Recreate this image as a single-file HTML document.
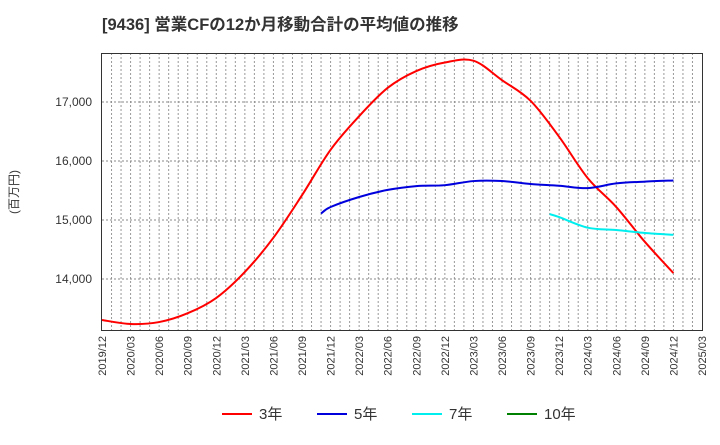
<!DOCTYPE html>
<html><head><meta charset="utf-8"><style>
body{margin:0;background:#fff;}
svg text{font-family:"Liberation Sans","Noto Sans CJK JP",sans-serif;}
</style></head><body>
<svg id="chart" width="720" height="440" xmlns="http://www.w3.org/2000/svg">
<text x="102" y="30" font-size="16.5" font-weight="bold" fill="#333">[9436]  営業CFの12か月移動合計の平均値の推移</text>
<text transform="translate(18,192) rotate(-90)" font-size="12" fill="#333" text-anchor="middle">(百万円)</text>
<g id="grid"></g>
<g id="series"></g>
<rect x="101.5" y="53.5" width="601" height="277" fill="none" stroke="#333" stroke-width="1"/>
<g id="axes"></g>
<g id="legend"></g>
</svg>
<script>
const xTickLabels=["2019/12","2020/03","2020/06","2020/09","2020/12","2021/03","2021/06","2021/09","2021/12","2022/03","2022/06","2022/09","2022/12","2023/03","2023/06","2023/09","2023/12","2024/03","2024/06","2024/09","2024/12","2025/03"];
const yTicks=[14000,15000,16000,17000];
const red3Months=["2019/12","2020/03","2020/06","2020/09","2020/12","2021/03","2021/06","2021/09","2021/12","2022/03","2022/06","2022/09","2022/12","2023/03","2023/06","2023/09","2023/12","2024/03","2024/06","2024/09","2024/12"];
const red3Values=[13305,13237,13270,13420,13680,14120,14700,15420,16190,16760,17240,17525,17670,17700,17370,17020,16410,15710,15220,14630,14100];
const blue5Months=["2021/11","2021/12","2022/03","2022/06","2022/09","2022/12","2023/03","2023/06","2023/09","2023/12","2024/03","2024/06","2024/09","2024/12"];
const blue5Values=[15110,15220,15390,15510,15575,15590,15660,15660,15610,15580,15540,15620,15650,15670];
const cyan7Months=["2023/11","2023/12","2024/03","2024/06","2024/09","2024/12"];
const cyan7Values=[15100,15050,14870,14830,14780,14750];
const green10Months=[];
const green10Values=[];

const NS="http://www.w3.org/2000/svg";
const X0=102,X1=702,Y0=53,Y1=330;
function mIdx(s){const [y,m]=s.split("/").map(Number);return (y-2019)*12+(m-12);}
const totalMonths=mIdx("2025/03");
function xs(s){return X0+(X1-X0)*mIdx(s)/totalMonths;}
function xi(i){return X0+(X1-X0)*i/totalMonths;}
function ys(v){return 102+(17000-v)*59/1000;}
function mk(tag,attrs,parent){const e=document.createElementNS(NS,tag);for(const k in attrs)e.setAttribute(k,attrs[k]);parent.appendChild(e);return e;}
const grid=document.getElementById("grid"),axes=document.getElementById("axes"),ser=document.getElementById("series"),leg=document.getElementById("legend");
for(let i=1;i<totalMonths;i++){
 const l=mk("line",{x1:xi(i),x2:xi(i),y1:Y0,y2:Y1,stroke:"#999","stroke-dasharray":"2,2","stroke-width":1},grid);
 
 
}
yTicks.forEach(v=>{
 const l=mk("line",{x1:X0,x2:X1,y1:ys(v),y2:ys(v),stroke:"#888","stroke-dasharray":"2,2","stroke-width":1},grid);
 
 
 const t=mk("text",{x:92,y:ys(v)+4,"font-size":12,fill:"#333","text-anchor":"end"},axes);
 t.textContent=v.toLocaleString("en-US");
 
 
});
xTickLabels.forEach(s=>{
 const x=xs(s);
 const t=mk("text",{transform:`translate(${x+4},${336}) rotate(-90)`,"font-size":11,fill:"#333","text-anchor":"end"},axes);
 t.textContent=s;
 
 
});
function smoothPath(pts){
 if(pts.length<2)return "";
 let d=`M${pts[0][0]},${pts[0][1]}`;
 for(let i=0;i<pts.length-1;i++){
  const p0=pts[i-1]||pts[i],p1=pts[i],p2=pts[i+1],p3=pts[i+2]||p2;
  const c1=[p1[0]+(p2[0]-p0[0])/6,p1[1]+(p2[1]-p0[1])/6];
  const c2=[p2[0]-(p3[0]-p1[0])/6,p2[1]-(p3[1]-p1[1])/6];
  d+=` C${c1[0]},${c1[1]} ${c2[0]},${c2[1]} ${p2[0]},${p2[1]}`;
 }
 return d;
}
function drawSeries(months,vals,color,name){
 const pts=months.map((m,i)=>[xs(m),ys(vals[i])]);
 const p=mk("path",{d:smoothPath(pts),fill:"none",stroke:color,"stroke-width":2},ser);
 
 
}
drawSeries(red3Months,red3Values,"#ff0000","line-3-year");
drawSeries(blue5Months,blue5Values,"#0000dd","line-5-year");
drawSeries(cyan7Months,cyan7Values,"#00eeee","line-7-year");
drawSeries(green10Months,green10Values,"#008000","line-10-year");
const legendItems=[["3年","#ff0000",222],["5年","#0000dd",317],["7年","#00eeee",412],["10年","#008000",507]];
legendItems.forEach(([lab,c,x])=>{
 const g=mk("g",{},leg);
 
 
 mk("line",{x1:x,x2:x+30,y1:414,y2:414,stroke:c,"stroke-width":2},g);
 const t=mk("text",{x:x+37,y:419,"font-size":15,fill:"#333"},g);
 t.textContent=lab;
});
</script>
</body></html>
